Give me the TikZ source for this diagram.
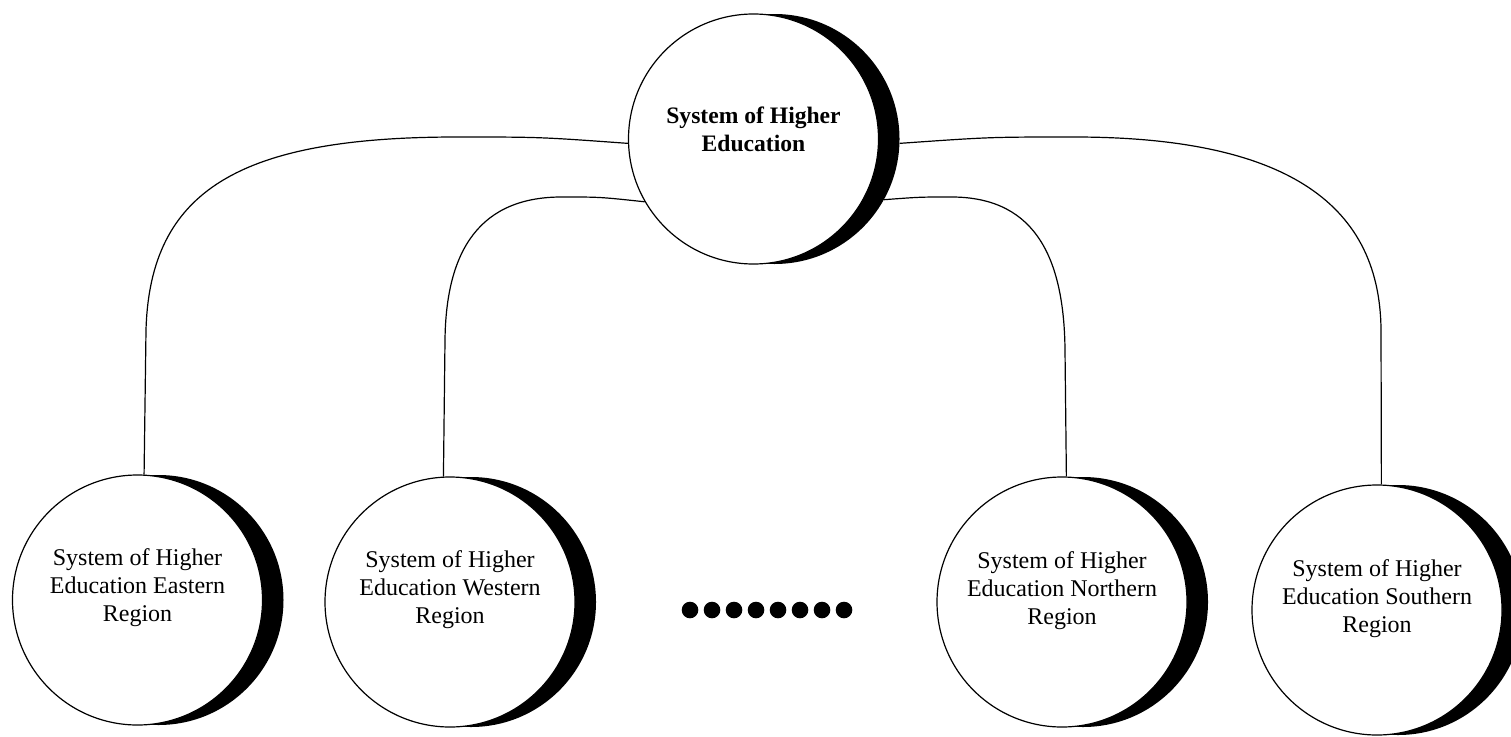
\documentclass[tikz,border=0pt]{standalone}
\usepackage{fontspec}
\setmainfont{Liberation Serif}
\begin{document}
\begin{tikzpicture}[x=1pt,y=-1pt,
  bubble/.style={circle,draw=black,line width=1.2pt,fill=white,minimum size=250pt,inner sep=0pt},
  bubbleshadow/.style={circle,fill=black,minimum size=250pt,inner sep=0pt},
  caption/.style={align=center,font=\fontsize{24}{28}\selectfont,inner sep=0pt},
  link/.style={line width=1.2pt}]
\useasboundingbox (0,0) rectangle (1511,736);
\clip (0,0) rectangle (1511,736);

% crescent shadows behind the circles
\node[bubbleshadow] (Tsh) at (774.5,139) {};
\node[bubbleshadow] (Esh) at (158.5,600) {};
\node[bubbleshadow] (Wsh) at (471,602) {};
\node[bubbleshadow] (Nsh) at (1083,602) {};
\node[bubbleshadow] (Ssh) at (1398,610) {};

% circles
\node[bubble] (T) at (753.5,139) {};
\node[bubble] (E) at (137.5,600) {};
\node[bubble] (W) at (450,602) {};
\node[bubble] (N) at (1062,602) {};
\node[bubble] (S) at (1377,610) {};

% captions
\node[caption,font=\bfseries\fontsize{23.6}{28}\selectfont] (Tt) at ([yshift=10pt]T.center) {System of Higher\\Education};
\node[caption] (Et) at ([yshift=12pt]E.center) {System of Higher\\Education Eastern\\Region};
\node[caption] (Wt) at ([yshift=12pt]W.center) {System of Higher\\Education Western\\Region};
\node[caption] (Nt) at ([yshift=11pt]N.center) {System of Higher\\Education Northern\\Region};
\node[caption] (St) at ([yshift=11pt]S.center) {System of Higher\\Education Southern\\Region};

% connectors
\draw[link] (T.182) .. controls (540,137) .. (457,137)
  .. controls (240,137) and (150,190) .. (146,330) -- (E.87);
\draw[link] (T.210) .. controls (600,197) .. (564,197)
  .. controls (480,196) and (446,250) .. (445,340) -- (W.93);
\draw[link] (Tsh.-29) .. controls (920,197) .. (949,197)
  .. controls (1030,196) and (1064,250) .. (1065,350) -- (N.88);
\draw[link] (Tsh.-2) .. controls (990,137) .. (1074,137)
  .. controls (1280,137) and (1380,200) .. (1381,330) -- (S.88);

% row of dots between the regions
\foreach \i in {0,...,7}
  \fill (690+22*\i,610) circle (8.3pt);
\end{tikzpicture}
\end{document}
